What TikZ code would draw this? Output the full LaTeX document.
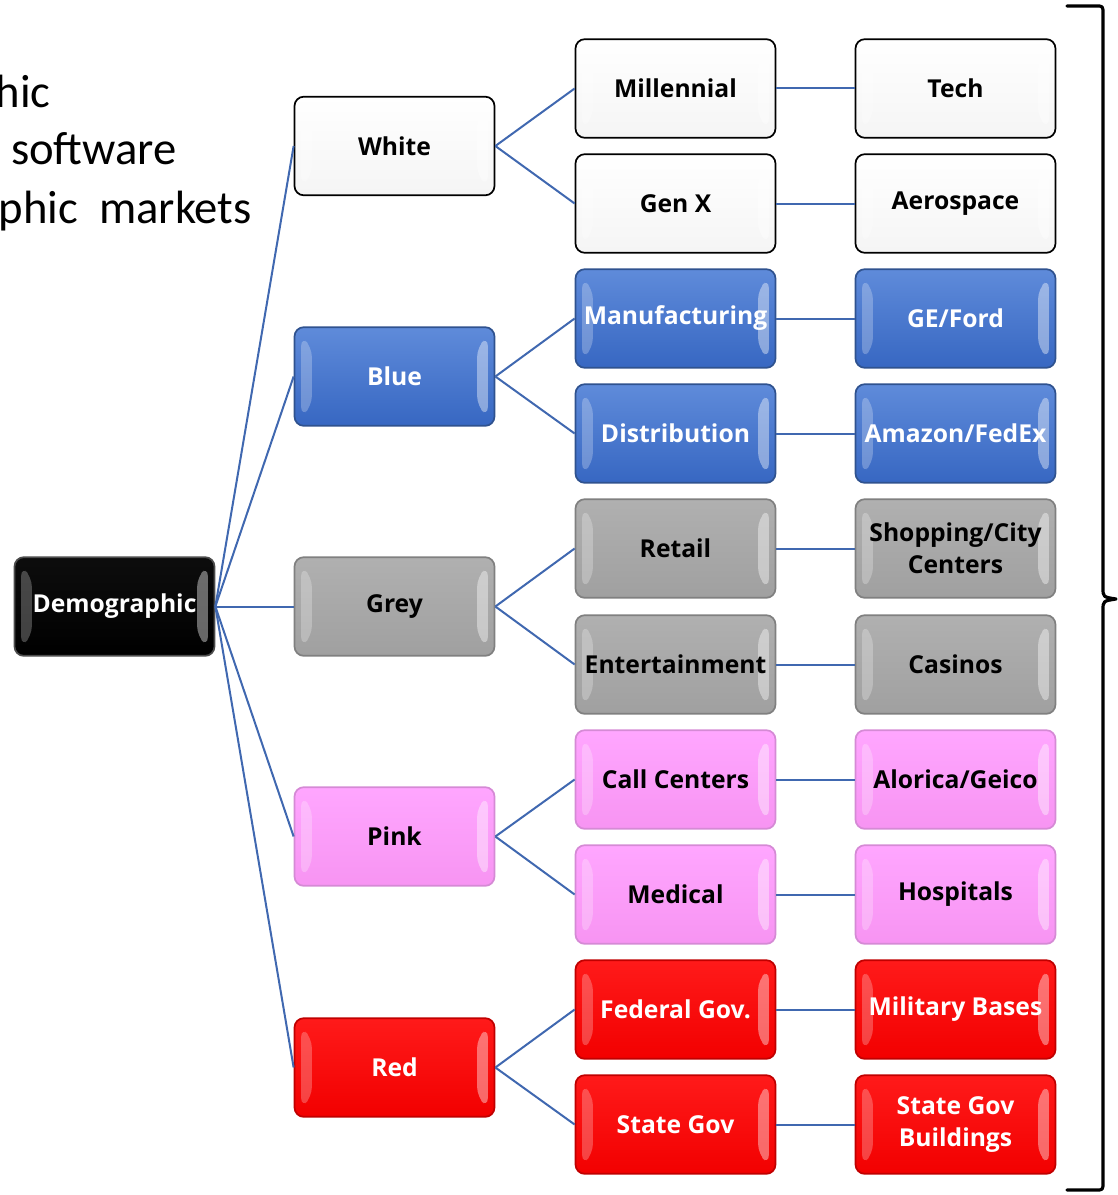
\documentclass[tikz,border=0pt]{standalone}
\usepackage{fontspec}
\setmainfont{Carlito}
\newfontfamily\boxfont{Open Sans}
\usetikzlibrary{shapes.misc}
\definecolor{conn}{HTML}{4068B0}
\definecolor{blueT}{HTML}{5F8BDA}
\definecolor{blueB}{HTML}{3767C2}
\definecolor{blueE}{HTML}{2F528F}
\definecolor{greyT}{HTML}{B0B0B0}
\definecolor{greyB}{HTML}{A0A0A0}
\definecolor{greyE}{HTML}{808080}
\definecolor{pinkT}{HTML}{FFA6FF}
\definecolor{pinkB}{HTML}{F794F2}
\definecolor{pinkE}{HTML}{D58AD5}
\definecolor{redT}{HTML}{FF1A1A}
\definecolor{redB}{HTML}{F20000}
\definecolor{redE}{HTML}{C00000}
\tikzset{
  box/.style={rectangle, rounded corners=7pt, minimum width=150pt, minimum height=74pt,
    inner sep=0pt, align=center, font=\boxfont\fontsize{18.5}{24}\selectfont\bfseries, line width=1.3pt,
    path picture={
      \fill[white,opacity=.25] ([xshift=5pt,yshift=-7pt]path picture bounding box.north west) -- ([xshift=13pt,yshift=-15pt]path picture bounding box.north west) -- ([xshift=13pt,yshift=15pt]path picture bounding box.south west) -- ([xshift=5pt,yshift=7pt]path picture bounding box.south west) -- cycle;
      \fill[white,opacity=.4] ([xshift=-5pt,yshift=-7pt]path picture bounding box.north east) -- ([xshift=-13pt,yshift=-15pt]path picture bounding box.north east) -- ([xshift=-13pt,yshift=15pt]path picture bounding box.south east) -- ([xshift=-5pt,yshift=7pt]path picture bounding box.south east) -- cycle;
    }},
  wbox/.style={box, draw=black, top color=white, bottom color=white!96!black, text=black},
  bbox/.style={box, draw=blueE, top color=blueT, bottom color=blueB, text=white},
  gbox/.style={box, draw=greyE, top color=greyT, bottom color=greyB, text=black},
  pbox/.style={box, draw=pinkE, top color=pinkT, bottom color=pinkB, text=black},
  rbox/.style={box, draw=redE, top color=redT, bottom color=redB, text=white},
  kbox/.style={box, draw=black!70, top color=black!95, bottom color=black, text=white},
  link/.style={draw=conn, line width=1.5pt},
  side/.style={font=\fontsize{35}{35}\selectfont, anchor=base east, inner sep=0pt}
}
\begin{document}
\begin{tikzpicture}[x=0.75pt,y=-0.75pt]
\useasboundingbox (0,0) rectangle (1117,1195);
% side text
\node[side] (t1) at (51,108) {hic};
\node[side] (t2) at (177,165) {software};
\node[side] (t3) at (252,223) {phic\ \ markets};
% root
\node[kbox] (demo) at (114.5,606.5) {Demographic};
% level 1
\node[wbox] (white) at (394.5,146) {White};
\node[bbox] (blue) at (394.5,376.5) {Blue};
\node[gbox] (grey) at (394.5,606.5) {Grey};
\node[pbox] (pink) at (394.5,836.5) {Pink};
\node[rbox] (red) at (394.5,1067.5) {Red};
% level 2
\node[wbox] (mill) at (675.5,88.5) {Millennial};
\node[wbox] (genx) at (675.5,203.5) {Gen X};
\node[bbox] (manu) at (675.5,318.5) {Manufacturing};
\node[bbox] (dist) at (675.5,433.5) {Distribution};
\node[gbox] (reta) at (675.5,548.5) {Retail};
\node[gbox] (ente) at (675.5,664.5) {Entertainment};
\node[pbox] (call) at (675.5,779.5) {Call Centers};
\node[pbox] (medi) at (675.5,894.5) {Medical};
\node[rbox] (fede) at (675.5,1009.5) {Federal Gov.};
\node[rbox] (stat) at (675.5,1124.5) {State Gov};
% level 3
\node[wbox] (tech) at (955.5,88.5) {Tech};
\node[wbox] (aero) at (955.5,203.5) {Aerospace};
\node[bbox] (gefo) at (955.5,318.5) {GE/Ford};
\node[bbox] (amaz) at (955.5,433.5) {Amazon/FedEx};
\node[gbox] (shop) at (955.5,548.5) {Shopping/City\\Centers};
\node[gbox] (casi) at (955.5,664.5) {Casinos};
\node[pbox] (alor) at (955.5,779.5) {Alorica/Geico};
\node[pbox] (hosp) at (955.5,894.5) {Hospitals};
\node[rbox] (mili) at (955.5,1009.5) {Military Bases};
\node[rbox] (sgb) at (955.5,1124.5) {State Gov\\Buildings};
% connectors
\foreach \n in {white,blue,grey,pink,red}
  \draw[link] (demo.east) -- (\n.west);
\draw[link] (white.east) -- (mill.west);
\draw[link] (white.east) -- (genx.west);
\draw[link] (blue.east) -- (manu.west);
\draw[link] (blue.east) -- (dist.west);
\draw[link] (grey.east) -- (reta.west);
\draw[link] (grey.east) -- (ente.west);
\draw[link] (pink.east) -- (call.west);
\draw[link] (pink.east) -- (medi.west);
\draw[link] (red.east) -- (fede.west);
\draw[link] (red.east) -- (stat.west);
\draw[link] (mill) -- (tech);
\draw[link] (genx) -- (aero);
\draw[link] (manu) -- (gefo);
\draw[link] (dist) -- (amaz);
\draw[link] (reta) -- (shop);
\draw[link] (ente) -- (casi);
\draw[link] (call) -- (alor);
\draw[link] (medi) -- (hosp);
\draw[link] (fede) -- (mili);
\draw[link] (stat) -- (sgb);
% brace
\coordinate (btop) at (1067,6);
\coordinate (btip) at (1116,599);
\coordinate (bbot) at (1067,1190);
\draw[line width=2.4pt, line cap=round, line join=round]
  (btop) -- (1096,6) .. controls (1103,6) .. (1103,14) -- (1103,588)
  .. controls (1103,597) .. (btip) .. controls (1103,601) .. (1103,610)
  -- (1103,1182) .. controls (1103,1190) .. (1096,1190) -- (bbot);
\end{tikzpicture}
\end{document}
